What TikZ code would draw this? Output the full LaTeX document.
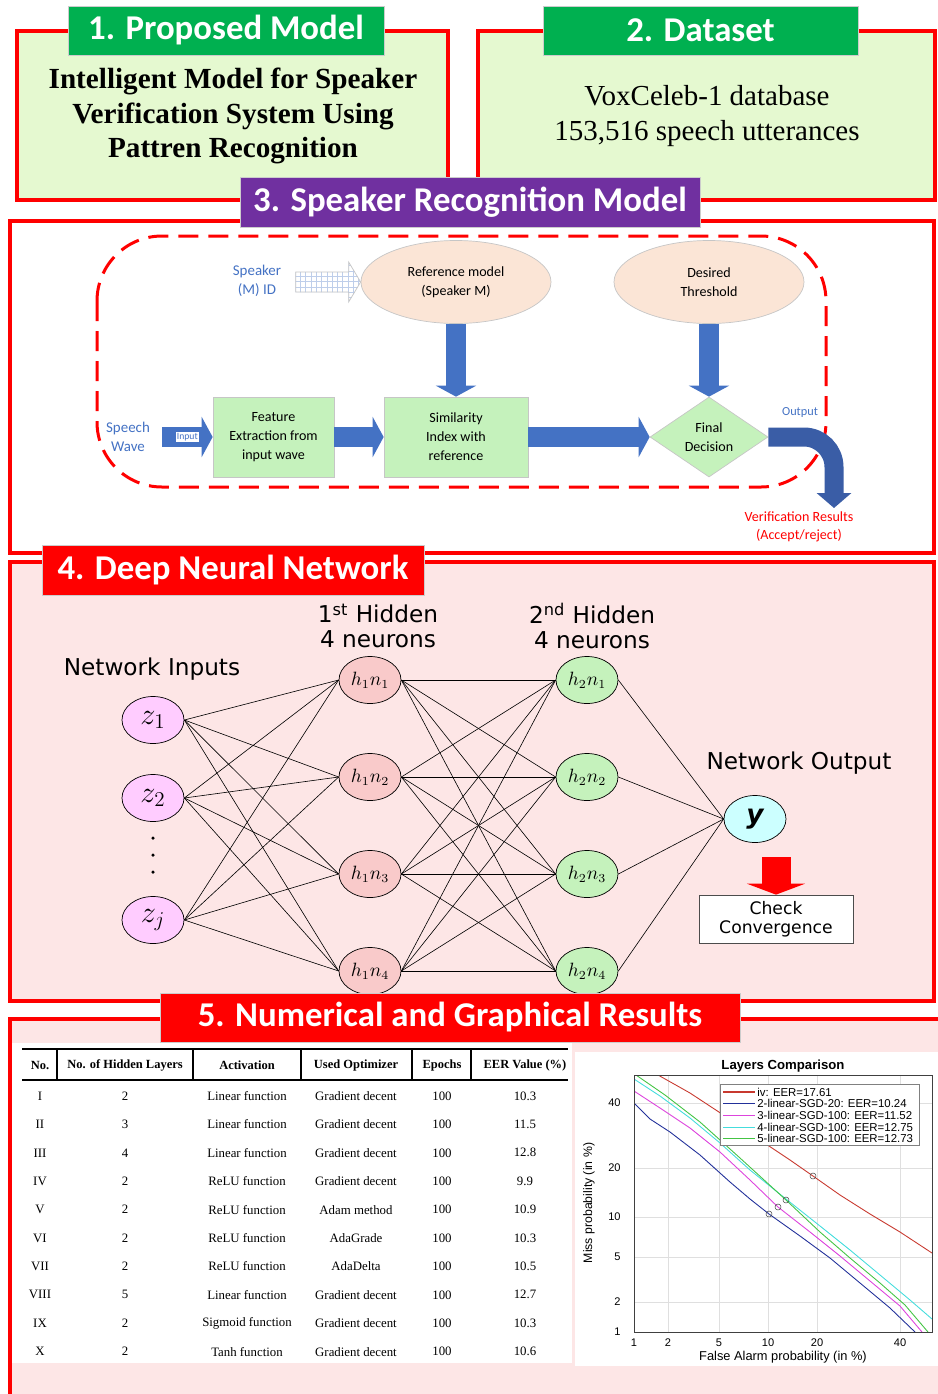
\documentclass[tikz,border=0pt]{standalone}
\definecolor{hdgreen}{HTML}{00B050}
\definecolor{hdpurple}{HTML}{7030A0}
\definecolor{lgreen}{HTML}{E5F9D0}
\definecolor{lpink}{HTML}{FDE6E6}
\definecolor{boxgreen}{HTML}{C5F2BC}
\definecolor{peach}{HTML}{FBE5D6}
\definecolor{arrblue}{HTML}{4472C4}
\definecolor{outblue}{HTML}{3A5DA6}
\definecolor{zpink}{HTML}{FFCCFF}
\definecolor{hpink}{HTML}{F9CACA}
\definecolor{ycyan}{HTML}{CCFFFF}
\definecolor{crvred}{HTML}{C8392F}
\definecolor{crvblue}{HTML}{22309A}
\definecolor{crvmag}{HTML}{DD44DD}
\definecolor{crvcyan}{HTML}{44DDDD}
\definecolor{crvgreen}{HTML}{44C444}
\usepackage{fontspec}
\setmainfont{Liberation Serif}
\newfontfamily\calibri{Carlito}
\newfontfamily\verd{DejaVu Sans}
\newfontfamily\arial{Liberation Sans}
\usepackage{tikz}
\usetikzlibrary{arrows.meta}
\usetikzlibrary{shapes.geometric, patterns, calc}

\begin{document}
\begin{tikzpicture}[x=0.2mm, y=-0.2mm,
	secbox/.style={draw=red, line width=0.8mm},
	sechead/.style={draw=gray!40, text=white, inner sep=0, font=\calibri\bfseries\fontsize{19.8}{22}\selectfont},
	ell/.style={ellipse, draw=gray!45, fill=peach, minimum width=38mm, minimum height=16.6mm, inner sep=0, align=center, font=\calibri\fontsize{8}{10.8}\selectfont},
	pbox/.style={draw=gray!45, fill=boxgreen, minimum height=16mm, inner sep=0, align=center, font=\calibri\fontsize{8}{10.8}\selectfont},
	bluetxt/.style={text=arrblue, align=center, inner sep=0, font=\calibri\fontsize{8.5}{11}\selectfont},
	blk/.style={draw=arrblue, line width=4mm, -{Triangle[width=8mm,length=2.2mm]}},
	neuron/.style={ellipse, draw, fill=#1, minimum width=12.4mm, minimum height=9.4mm, inner sep=0},
	nlbl/.style={align=center, inner sep=0, font=\verd\fontsize{13.2}{14.2}\selectfont},
	link/.style={black, line width=0.35pt},
	tcell/.style={inner sep=0, font=\fontsize{7.3}{8}\selectfont},
	thead/.style={inner sep=0, font=\bfseries\fontsize{7.1}{8}\selectfont},
	tick/.style={inner sep=0, font=\arial\fontsize{6.3}{7}\selectfont},
	gridl/.style={gray!25, line width=0.3pt}]
	\useasboundingbox (0,0) rectangle (938,1394);
	\clip (0,0) rectangle (938,1394);
	\fill[white] (0,0) rectangle (938,1394);
	%section frames
	\draw[secbox, fill=lgreen] (17,31) rectangle (448,200);
	\draw[secbox, fill=lgreen] (478,31) rectangle (935,200);
	\draw[secbox, fill=white] (10,221) rectangle (934,553);
	\draw[secbox, fill=lpink] (10,562) rectangle (934,1001);
	\draw[secbox, fill=lpink] (10,1019) rectangle (960,1420);
	\node[font=\bfseries\fontsize{16.6}{19.8}\selectfont, align=center] (pm) at (233,116)
		{Intelligent Model for Speaker\\Verification System Using\\Pattren Recognition};
	\node[font=\fontsize{16.5}{20.4}\selectfont, align=center] (ds) at (707,116)
		{VoxCeleb-1 database\\153,516 speech utterances};
	%speaker recognition
	\draw[red, line width=0.6mm, dash pattern=on 4mm off 2mm, rounded corners=13mm] (97,236) rectangle (826,487);
	\node[ell] (ref) at (456,282) {Reference model\\(Speaker M)};
	\node[ell] (thr) at (709,282) {Desired\\Threshold};
	\node[pbox, minimum width=24.2mm] (feat) at (273.5,437) {Feature\\Extraction from\\input wave};
	\node[pbox, minimum width=28.8mm] (sim) at (456,437) {Similarity\\Index with\\reference};
	\node[diamond, aspect=1.5, draw=gray!45, fill=boxgreen, minimum width=23.6mm, minimum height=16mm, inner sep=0, align=center,
		font=\calibri\fontsize{8}{10.8}\selectfont] (fd) at (709,437) {Final\\Decision};
	\node[bluetxt] (spk) at (257,281) {Speaker\\(M) ID};
	\node[bluetxt] (sw) at (128,437) {Speech\\Wave};
	\node[bluetxt, font=\calibri\fontsize{7}{8}\selectfont] (outl) at (800,412) {Output};
	\node[text=red, align=center, inner sep=0, font=\calibri\fontsize{8}{10.2}\selectfont] (vr) at (799,527)
		{Verification Results\\(Accept/reject)};
	\coordinate (inp) at (162,437);
	\coordinate (res) at (834,508);
	\draw[gray!45, pattern=grid, pattern color=arrblue!35]
		($(ref.west)+(-65,-10)$) -- ($(ref.west)+(-12,-10)$) -- ($(ref.west)+(-12,-20)$) -- (ref.west)
		-- ($(ref.west)+(-12,20)$) -- ($(ref.west)+(-12,10)$) -- ($(ref.west)+(-65,10)$) -- cycle;
	\draw[blk] (inp) -- node[fill=white, inner sep=0.6pt, text=arrblue, font=\calibri\fontsize{5.5}{6}\selectfont] (inl) {Input} (feat);
	\draw[blk] (feat) -- (sim);
	\draw[blk] (sim) -- (fd);
	\draw[blk] (ref) -- (sim);
	\draw[blk] (thr) -- (fd);
	\draw[outblue, line width=3.8mm, rounded corners=6mm, -{Triangle[width=6.8mm,length=3mm]}] (fd.east) -- (834,437) -- (res);
	%network
	\node[nlbl] (hl1) at (378,626) {1\textsuperscript{st} Hidden\\4 neurons};
	\node[nlbl] (hl2) at (592,626) {2\textsuperscript{nd} Hidden\\4 neurons};
	\node[nlbl] (ni) at (152,669) {Network Inputs};
	\node[nlbl] (no) at (799,763) {Network Output};
	\foreach \n/\yy in {1/720, 2/798, j/920}
		\node[neuron=zpink, font=\fontsize{17}{20}\selectfont] (z\n) at (153,\yy) {$z_{\n}$};
	\foreach \d in {838,855,872}
		\fill (153,\d) circle[radius=0.35mm];
	\foreach \k/\yy in {1/680, 2/777, 3/874, 4/971} {
		\node[neuron=hpink, font=\fontsize{10.5}{12}\selectfont] (a\k) at (370,\yy) {$h_1n_\k$};
		\node[neuron=boxgreen, font=\fontsize{10.5}{12}\selectfont] (b\k) at (587,\yy) {$h_2n_\k$};
	}
	\node[neuron=ycyan, font=\verd\bfseries\itshape\fontsize{15}{18}\selectfont] (y) at (755,819) {y};
	\foreach \i in {1,2,j}
		\foreach \k in {1,...,4}
			\draw[link] (z\i.east) -- (a\k.west);
	\foreach \i in {1,...,4}
		\foreach \k in {1,...,4}
			\draw[link] (a\i.east) -- (b\k.west);
	\foreach \k in {1,...,4}
		\draw[link] (b\k.east) -- (y.west);
	\node[draw=black!70, fill=white, minimum width=30.8mm, minimum height=9.6mm, inner sep=0, align=center,
		font=\verd\fontsize{9.8}{10.8}\selectfont] (chk) at (776,919) {Check\\Convergence};
	\coordinate (cv) at (776,857);
	\draw[red, line width=5.8mm, -{Triangle[width=11.6mm,length=2.2mm]}] (cv) -- (chk);
	%results table
	\fill[white] (12,1043) rectangle (572,1363);
	\draw[line width=0.4mm] (22,1049) -- (568,1049);
	\draw[line width=0.4mm] (22,1080) -- (568,1080);
	\foreach \x in {57,193,301,412,471}
		\draw[line width=0.3mm] (\x,1049) -- (\x,1080);
	\foreach \c/\t [count=\n] in {40/No., 125/No. of Hidden Layers, 247/Activation, 356/Used Optimizer, 442/Epochs, 525/EER Value (\%)}
		\node[thead] (th\n) at (\c,1065) {\t};
	\foreach \no/\hl/\act/\opt/\eer [count=\r from 0] in {I/2/Linear function/Gradient decent/10.3,
		II/3/Linear function/Gradient decent/11.5, III/4/Linear function/Gradient decent/12.8,
		IV/2/ReLU function/Gradient decent/9.9, V/2/ReLU function/Adam method/10.9,
		VI/2/ReLU function/AdaGrade/10.3, VII/2/ReLU function/AdaDelta/10.5,
		VIII/5/Linear function/Gradient decent/12.7, IX/2/Sigmoid function/Gradient decent/10.3,
		X/2/Tanh function/Gradient decent/10.6} {
		\pgfmathsetmacro\ry{1096+28.4*\r}
		\node[tcell] (no\r) at (40,\ry) {\no};
		\node[tcell] (hl\r) at (125,\ry) {\hl};
		\node[tcell] (ac\r) at (247,\ry) {\act};
		\node[tcell] (op\r) at (356,\ry) {\opt};
		\node[tcell] (ep\r) at (442,\ry) {100};
		\node[tcell] (er\r) at (525,\ry) {\eer};
	}
	%DET plot
	\fill[white] (575,1052) rectangle (938,1366);
	\foreach \gx in {668,719,768,817,900}
		\draw[gridl] (\gx,1075) -- (\gx,1332);
	\foreach \gy in {1302,1257,1217,1168,1103}
		\draw[gridl] (634,\gy) -- (932,\gy);
	\begin{scope}
		\clip (634,1075) rectangle (932,1332);
		\draw[crvred, line width=0.5pt] plot coordinates {(658,1075) (690,1093) (725,1116) (760,1140) (790,1160) (813,1176) (840,1195) (870,1214) (900,1232) (932,1253)};
		\draw[crvblue, line width=0.5pt] plot coordinates {(634,1103) (650,1119) (670,1132) (700,1155) (730,1182) (750,1199) (769,1214) (800,1236) (830,1258) (860,1283) (890,1308) (915,1332)};
		\draw[crvmag, line width=0.5pt] plot coordinates {(634,1091) (660,1108) (690,1128) (720,1152) (750,1180) (778,1207) (810,1232) (840,1256) (870,1281) (900,1306) (922,1332)};
		\draw[crvcyan, line width=0.5pt] plot coordinates {(634,1079) (660,1096) (690,1118) (720,1143) (750,1170) (786,1199) (820,1226) (850,1250) (880,1275) (910,1300) (932,1319)};
		\draw[crvgreen, line width=0.5pt] plot coordinates {(636,1075) (665,1095) (700,1122) (740,1158) (786,1200) (820,1232) (850,1258) (880,1283) (905,1305) (928,1332)};
	\end{scope}
	\foreach \mx/\my in {813/1176, 769/1214, 778/1207, 786/1200}
		\draw[black!70, line width=0.3pt] (\mx,\my) circle[radius=0.6mm];
	\draw[black!75, line width=0.4pt] (634,1075) rectangle (932,1332);
	\foreach \gx/\l [count=\n] in {634/1, 668/2, 719/5, 768/10, 817/20, 900/40}
		\node[tick] (xt\n) at (\gx,1343) {\l};
	\foreach \gy/\l [count=\n] in {1332/1, 1302/2, 1257/5, 1217/10, 1168/20, 1103/40}
		\node[tick, anchor=east] (yt\n) at (621,\gy) {\l};
	\node[font=\arial\bfseries\fontsize{7.5}{9}\selectfont] (ttl) at (783,1066) {Layers Comparison};
	\node[font=\arial\fontsize{7.3}{9}\selectfont] (xl) at (783,1357) {False Alarm probability (in \%)};
	\node[font=\arial\fontsize{7}{9}\selectfont, rotate=90] (yl) at (589,1203) {Miss probability (in \%)};
	\draw[black!50, fill=white, line width=0.3pt] (720,1084) rectangle (919,1145);
	\foreach \c/\t [count=\k from 0] in {crvred/iv: EER=17.61, crvblue/2-linear-SGD-20: EER=10.24,
		crvmag/3-linear-SGD-100: EER=11.52, crvcyan/4-linear-SGD-100: EER=12.75, crvgreen/5-linear-SGD-100: EER=12.73} {
		\draw[\c, line width=0.6pt] (723,1092+11.7*\k) -- (755,1092+11.7*\k);
		\node[anchor=west, inner sep=0, font=\arial\fontsize{6.5}{7}\selectfont] (lg\k) at (757,1092+11.7*\k) {\t};
	}
	%section headings
	\node[sechead, fill=hdgreen, minimum width=63.2mm, minimum height=9.8mm] (h1) at (226,30.5) {1. Proposed Model};
	\node[sechead, fill=hdgreen, minimum width=63mm, minimum height=9.8mm] (h2) at (700.5,30.5) {2. Dataset};
	\node[sechead, fill=hdpurple, minimum width=92mm, minimum height=10mm] (h3) at (470,202) {3. Speaker Recognition Model};
	\node[sechead, fill=red, minimum width=76.4mm, minimum height=10mm] (h4) at (233,570) {4. Deep Neural Network};
	\node[sechead, fill=red, minimum width=116mm, minimum height=9.8mm] (h5) at (450,1017.5) {5. Numerical and Graphical Results};
\end{tikzpicture}
\end{document}
